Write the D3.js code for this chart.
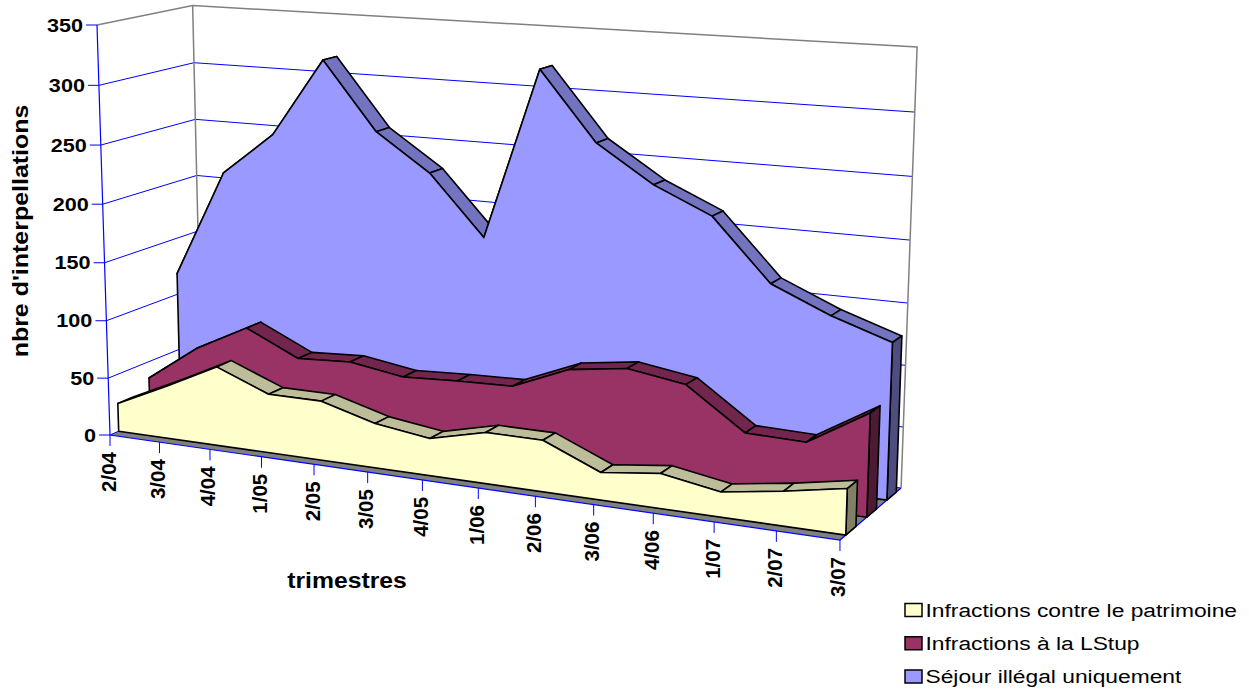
<!DOCTYPE html>
<html>
<head>
<meta charset="utf-8">
<script src="https://cdn.jsdelivr.net/npm/d3@7"></script>
<style>
	html, body { margin: 0; padding: 0; background: #fff; }
	svg { display: block; }
	text { font-family: "Liberation Sans", Arial, sans-serif; fill: #000; }
</style>
</head>
<body>
<svg id="chart" width="1249" height="692"></svg>
<script>

var trimestres = ["2/04","3/04","4/04","1/05","2/05","3/05","4/05","1/06","2/06","3/06","4/06","1/07","2/07","3/07"];
var patrimoine = [24.5,45.6,68,50.3,50.3,37.4,31.1,42.3,42.2,22.4,28.2,20.1,27.4,36.3];
var lstup = [35.5,67.5,90.7,69.5,72.1,64.9,67.2,68.6,88.1,94.6,87.3,54.3,53.1,82.4];
var sejour = [118.5,212,249,315.6,258.5,227.5,177.5,319.7,263.5,233.5,212.5,162.9,142.3,126.4];
var yTicks = [0,50,100,150,200,250,300,350];

var seriesNames = ["Infractions contre le patrimoine","Infractions à la LStup","Séjour illégal uniquement"];
var seriesValues = [patrimoine, lstup, sejour];
var frontColors = ["#ffffcc","#993366","#9999ff"];
var topColors = ["#bdbd99","#73264d","#7373bf"];
var endColors = ["#808066","#4d1a33","#4d4d80"];

var svg = d3.select("#chart");

var u = d3.scalePoint(trimestres, [0, 1]);
var v = d3.scaleLinear([0, 350], [0, 1]);

// perspective of the 3d box, fitted on the corners of the walls
function project(ui, vi, zi)	{

	var w = 1 - 0.1271*ui - 0.034*vi + 0.0551*zi;
	return [
		(110 + 623.2*ui - 16.3*vi + 103*zi) / w,
		(435 + 36.4*ui - 410.85*vi - 18.5*zi) / w
	];

}

var line = d3.line();
var poly = pts => line(pts) + "Z";

function label(x, y, str, size, sx, opt)	{

	opt = opt || {};
	svg.append("text")
		.attr("transform", `translate(${x},${y}) rotate(${opt.rot || 0}) scale(${sx},1)`)
		.attr("text-anchor", opt.anchor || "start")
		.attr("font-size", size)
		.attr("font-weight", opt.bold ? "bold" : "normal")
		.text(str);

}

// floor
svg.append("path")
	.attr("d", poly([ project(0,0,0), project(1,0,0), project(1,0,1), project(0,0,1) ]))
	.attr("fill", "#808080");

// grid on the walls
yTicks.forEach(t => {

	if(t === 350)
		return;
	svg.append("path")
		.attr("d", line([ project(0,v(t),0), project(0,v(t),1), project(1,v(t),1) ]))
		.attr("fill", "none")
		.attr("stroke", "#0000ff")
		.attr("stroke-width", 1);

});

// wall edges
svg.append("path")
	.attr("d", line([ project(0,1,0), project(0,1,1), project(1,1,1), project(1,0,1) ]))
	.attr("fill", "none")
	.attr("stroke", "#808080")
	.attr("stroke-width", 1.5);
svg.append("path")
	.attr("d", line([ project(0,1,1), project(0,0,1) ]))
	.attr("fill", "none")
	.attr("stroke", "#808080")
	.attr("stroke-width", 1.5);

// axes
svg.append("path")
	.attr("d", line([ project(0,1,0), project(0,0,0), project(1,0,0), project(1,0,1) ]))
	.attr("fill", "none")
	.attr("stroke", "#0000ff")
	.attr("stroke-width", 1.2);

yTicks.forEach(t => {

	var p = project(0, v(t), 0);
	svg.append("line")
		.attr("x1", p[0]-11).attr("x2", p[0])
		.attr("y1", p[1]).attr("y2", p[1])
		.attr("stroke", "#0000ff");
	label(p[0]-14, p[1]+6.5, t, 18, 1.2, { anchor: "end", bold: true });

});

trimestres.forEach(c => {

	var p = project(u(c), 0, 0);
	svg.append("line")
		.attr("x1", p[0]).attr("x2", p[0])
		.attr("y1", p[1]).attr("y2", p[1]+11)
		.attr("stroke", "#0000ff");
	label(p[0]+5.5, p[1]+17, c, 20.5, 1, { rot: -90, anchor: "end", bold: true });

});

label(28, 231, "nbre d'interpellations", 22, 1.135, { rot: -90, anchor: "middle", bold: true });
label(347, 588, "trimestres", 22, 1.125, { anchor: "middle", bold: true });

// areas, the furthest first
[2, 1, 0].forEach(i => {

	var zF = (i + 0.27) / 3;
	var zB = (i + 0.75) / 3;
	var vals = seriesValues[i];
	var g = svg.append("g")
		.attr("stroke", "#000")
		.attr("stroke-width", 1.6)
		.attr("stroke-linejoin", "round");

	d3.pairs(trimestres.map((c, k) => [c, vals[k]])).forEach(([a, b]) => {

		g.append("path")
			.attr("d", poly([
				project(u(a[0]), v(a[1]), zF), project(u(b[0]), v(b[1]), zF),
				project(u(b[0]), v(b[1]), zB), project(u(a[0]), v(a[1]), zB)
			]))
			.attr("fill", topColors[i]);

	});

	var lastV = v(vals[vals.length-1]);
	g.append("path")
		.attr("d", poly([ project(1,0,zF), project(1,lastV,zF), project(1,lastV,zB), project(1,0,zB) ]))
		.attr("fill", endColors[i]);

	var front = trimestres.map((c, k) => project(u(c), v(vals[k]), zF));
	g.append("path")
		.attr("d", poly([ project(0,0,zF) ].concat(front, [ project(1,0,zF) ])))
		.attr("fill", frontColors[i]);

});

// legend
seriesNames.forEach((s, i) => {

	var y = d3.scaleLinear([0, 2], [616.5, 683])(i);
	svg.append("rect")
		.attr("x", 905).attr("y", y-13)
		.attr("width", 17).attr("height", 13)
		.attr("fill", frontColors[i])
		.attr("stroke", "#000")
		.attr("stroke-width", 1.5);
	label(925.5, y, s, 19, 1.2);

});

</script>
</body>
</html>
